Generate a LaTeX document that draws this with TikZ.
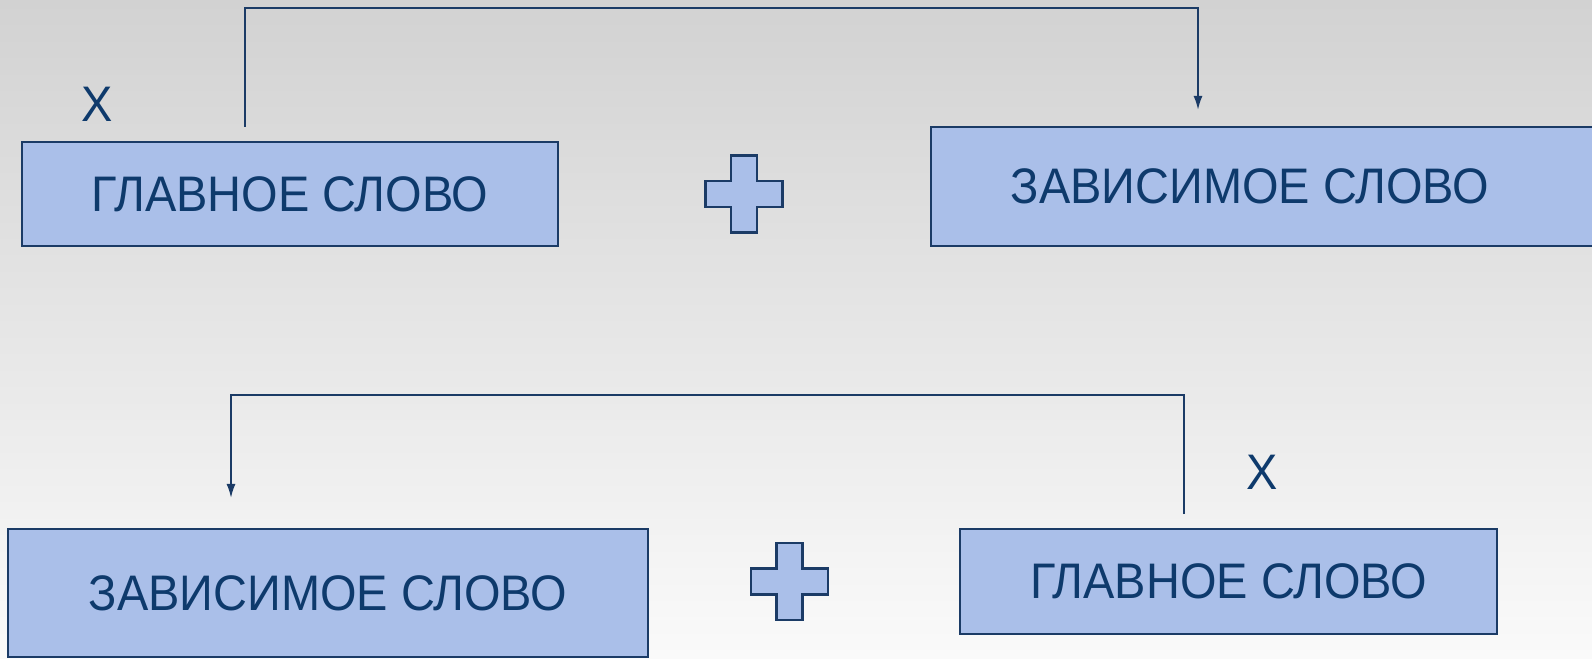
\documentclass[tikz,border=0pt]{standalone}
\usepackage{fontspec}
\setmainfont{Liberation Sans}[FakeStretch=0.94]
\usepackage{xcolor}
\usetikzlibrary{arrows.meta}

\definecolor{fondo}{HTML}{D2D2D2}
\definecolor{fondob}{HTML}{FAFAFA}
\definecolor{caja}{HTML}{AABFE9}
\definecolor{borde}{HTML}{1B3B66}
\definecolor{letra}{HTML}{0E3A6C}

\begin{document}
\begin{tikzpicture}[x=0.01cm, y=-0.01cm,
    palabra/.style={draw=borde, fill=caja, line width=0.6pt, text=letra,
      font=\fontsize{14.2}{17}\selectfont, inner sep=0pt},
    enlace/.style={draw=borde, line width=0.55pt},
    flecha/.style={-{Latex[length=0.14cm,width=0.09cm]}},
    marca/.style={text=letra, font=\fontsize{14.2}{17}\selectfont}]
				%Fondo
				\shade[top color=fondo, bottom color=fondob] (0,0) rectangle (1592,658);
				\useasboundingbox (0,0) rectangle (1592,658);

				%Primera fila
				\node[palabra, minimum width=5.36cm, minimum height=1.04cm] (glav1) at (290,194) {ГЛАВНОЕ СЛОВО};
				\node[palabra, minimum width=6.70cm, minimum height=1.19cm] (zav1) at (1266,186.5) {ЗАВИСИМОЕ СЛОВО\kern0.32cm};
				\node[marca] (x1) at (97,104) {X};

				%Segunda fila
				\node[palabra, minimum width=6.40cm, minimum height=1.28cm] (zav2) at (328,593) {ЗАВИСИМОЕ СЛОВО};
				\node[palabra, minimum width=5.37cm, minimum height=1.05cm] (glav2) at (1228.5,581.5) {ГЛАВНОЕ СЛОВО};
				\node[marca] (x2) at (1262,472) {X};

				%Cruces
				\foreach \cx/\cy in {744/194, 789.5/581.5}{
					\draw[borde, fill=caja, line width=0.6pt]
						(\cx-13,\cy-38.5) -- (\cx+13,\cy-38.5) -- (\cx+13,\cy-13) -- (\cx+38.5,\cy-13)
						-- (\cx+38.5,\cy+13) -- (\cx+13,\cy+13) -- (\cx+13,\cy+38.5) -- (\cx-13,\cy+38.5)
						-- (\cx-13,\cy+13) -- (\cx-38.5,\cy+13) -- (\cx-38.5,\cy-13) -- (\cx-13,\cy-13) -- cycle;
				}

				%Enlaces
				\coordinate (s1) at (245,127);
				\coordinate (k1) at (245,8);
				\coordinate (t1) at (1198,110);
				\draw[enlace, flecha] (s1) -- (k1) -| (t1);

				\coordinate (s2) at (1184,514);
				\coordinate (k2) at (1184,395);
				\coordinate (t2) at (231,498);
				\draw[enlace, flecha] (s2) -- (k2) -| (t2);
\end{tikzpicture}
\end{document}
